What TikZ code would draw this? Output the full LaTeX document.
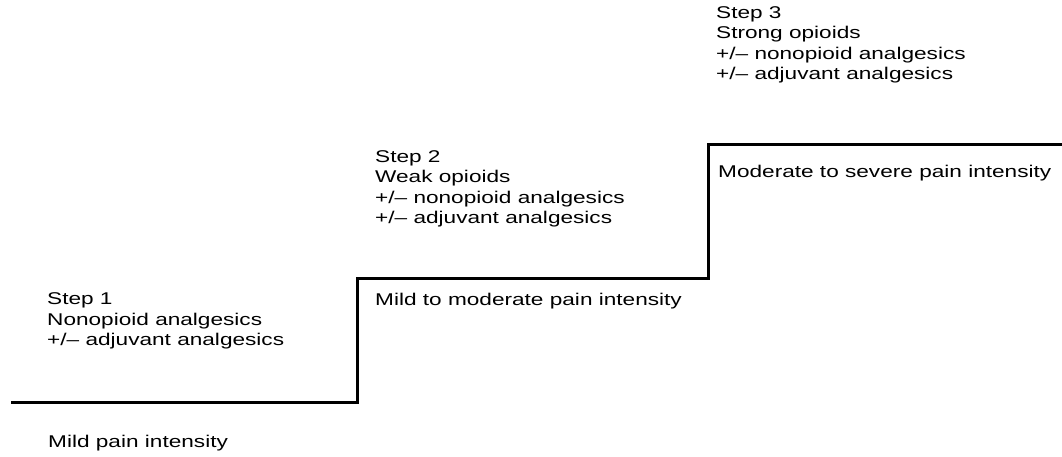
\documentclass[tikz,border=0pt]{standalone}
\usepackage{fontspec}
\setmainfont{Liberation Sans}[FakeStretch=1.33]
\begin{document}
\begin{tikzpicture}[x=1pt,y=1pt,
  lbl/.style={anchor=base west,inner sep=0pt,font=\fontsize{17}{24}\selectfont,align=left},
  stair/.style={line width=3pt,line join=miter}]
\useasboundingbox (0,0) rectangle (1062,456);
% staircase
\coordinate (s0) at (11,54);
\coordinate (s1) at (357,54);
\coordinate (s2) at (357,178);
\coordinate (s3) at (708,178);
\coordinate (s4) at (708,311);
\coordinate (s5) at (1062,311);
\draw[stair] (s0) -- (s1) -- (s2) -- (s3) -- (s4) -- (s5);
% step 3
\node[lbl] (t3a) at (716,437) {Step 3};
\node[lbl] (t3b) at (716,417) {Strong opioids};
\node[lbl] (t3c) at (716,396) {+/-- nonopioid analgesics};
\node[lbl] (t3d) at (716,376) {+/-- adjuvant analgesics};
\node[lbl] (p3) at (718,279) {Moderate to severe pain intensity};
% step 2
\node[lbl] (t2a) at (375,294) {Step 2};
\node[lbl] (t2b) at (375,274) {Weak opioids};
\node[lbl] (t2c) at (375,253) {+/-- nonopioid analgesics};
\node[lbl] (t2d) at (375,233) {+/-- adjuvant analgesics};
\node[lbl] (p2) at (375,151) {Mild to moderate pain intensity};
% step 1
\node[lbl] (t1a) at (47,152) {Step 1};
\node[lbl] (t1b) at (47,131) {Nonopioid analgesics};
\node[lbl] (t1c) at (47,111) {+/-- adjuvant analgesics};
\node[lbl] (p1) at (48,9) {Mild pain intensity};
\end{tikzpicture}
\end{document}
